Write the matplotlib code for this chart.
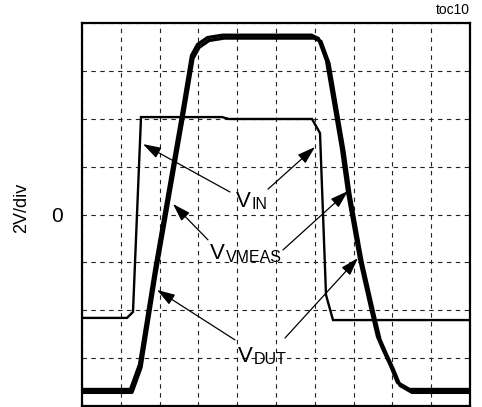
import matplotlib
matplotlib.use("Agg")
import matplotlib.pyplot as plt
from matplotlib import font_manager

# ---------------- data (time in divisions, voltage in V; 2 V/div) ----------------
t_in = [0.00, 1.160, 1.314, 1.521, 3.608, 3.789, 5.928, 6.134, 6.289, 6.469, 10.0]
v_in = [-4.32, -4.32, -4.07, 4.07, 4.07, 3.99, 3.99, 3.40, -3.36, -4.41, -4.41]

t_vmeas = [0.0, 1.250, 1.482, 1.869, 2.564, 2.822, 2.977, 3.235, 3.621, 5.915, 6.095,
           6.302, 6.688, 6.843, 7.152, 7.461, 7.616, 7.771, 7.951, 8.131, 8.441, 10.0]
v_vmeas = [-7.31, -7.31, -6.27, -2.34, 4.13, 6.64, 7.10, 7.39, 7.49, 7.49, 7.35,
           6.43, 2.76, 0.96, -1.84, -4.05, -5.10, -5.68, -6.31, -7.02, -7.31, -7.31]

t_dut = [0.0, 1.289, 1.521, 1.908, 2.603, 2.861, 3.016, 3.274, 3.660, 5.979, 6.159,
         6.366, 6.752, 6.907, 7.216, 7.525, 7.680, 7.835, 8.015, 8.195, 8.505, 10.0]
v_dut = [-7.43, -7.43, -6.39, -2.46, 4.01, 6.52, 6.98, 7.27, 7.37, 7.37, 7.23,
         6.31, 2.64, 0.84, -1.96, -4.17, -5.22, -5.80, -6.43, -7.14, -7.43, -7.43]

x_ticks = list(range(0, 11))
y_ticks = [-8, -6, -4, -2, 0, 2, 4, 6, 8]
y_ticklabels = ["", "", "", "", "0", "", "", "", ""]

# ---------------- fonts ----------------
names = {f.name for f in font_manager.fontManager.ttflist}
if "Liberation Sans Narrow" in names:
    fam = ["Liberation Sans Narrow", "Liberation Sans", "DejaVu Sans"]
    sz_main, sz_sub = 16.5, 13.0
else:
    fam = ["Liberation Sans", "DejaVu Sans"]
    sz_main, sz_sub = 16.0, 11.5
plt.rcParams["font.family"] = ["Liberation Sans", "DejaVu Sans"]

W, H = 482, 407
fig = plt.figure(figsize=(W / 100, H / 100), dpi=100)
ax = fig.add_axes([82 / W, 1 / H, 388 / W, 383 / H])

ax.set_xlim(0, 10)
ax.set_ylim(-8, 8)
ax.set_xticks(x_ticks)
ax.set_yticks(y_ticks)
ax.set_xticklabels([])
ax.set_yticklabels(y_ticklabels, fontsize=15, family=fam)
ax.tick_params(axis="both", length=0)
ax.tick_params(axis="y", pad=14)
ax.grid(True, color="#222222", linestyle=(0, (4, 4)), linewidth=0.8)
for s in ax.spines.values():
    s.set_linewidth(1.6)
    s.set_color("black")

ax.set_ylabel("2V/div", fontsize=13, family=fam)
ax.yaxis.set_label_coords(-0.134, 0.517)

# ---------------- curves ----------------
ax.plot(t_in, v_in, color="black", lw=1.7, solid_joinstyle="miter", zorder=3)
ax.plot(t_vmeas, v_vmeas, color="black", lw=2.4, zorder=3)
ax.plot(t_dut, v_dut, color="black", lw=2.4, zorder=3)

# ---------------- annotations ----------------
arrow = dict(arrowstyle="-|>,head_length=1.1,head_width=0.35", color="black",
             lw=0.9, mutation_scale=10, shrinkA=0, shrinkB=0)
arrows = [
    ((3.814, 0.94), (1.572, 2.94)),
    ((4.794, 1.06), (6.005, 2.82)),
    ((3.247, -1.06), (2.345, 0.44)),
    ((5.180, -1.48), (6.856, 0.98)),
    ((3.943, -5.24), (1.933, -3.15)),
    ((5.232, -5.16), (7.113, -1.82)),
]
for tail, head in arrows:
    ax.annotate("", xy=head, xytext=tail, arrowprops=arrow, zorder=4)

def label(x_v, base_v, base_s, sub):
    fig.text(x_v / W, 1 - base_v / H, "V", fontsize=sz_main, family=fam,
             ha="left", va="baseline")
    fig.text((x_v + 15.5) / W, 1 - base_s / H, sub, fontsize=sz_sub, family=fam,
             ha="left", va="baseline")

label(236, 206.7, 209.3, "IN")
label(210, 259.3, 261.7, "VMEAS")
label(238, 361.7, 364.0, "DUT")

fig.text(470 / W, 1 - 14 / H, "toc10", fontsize=10, ha="right", va="baseline")

fig.savefig("out.png", dpi=100)
